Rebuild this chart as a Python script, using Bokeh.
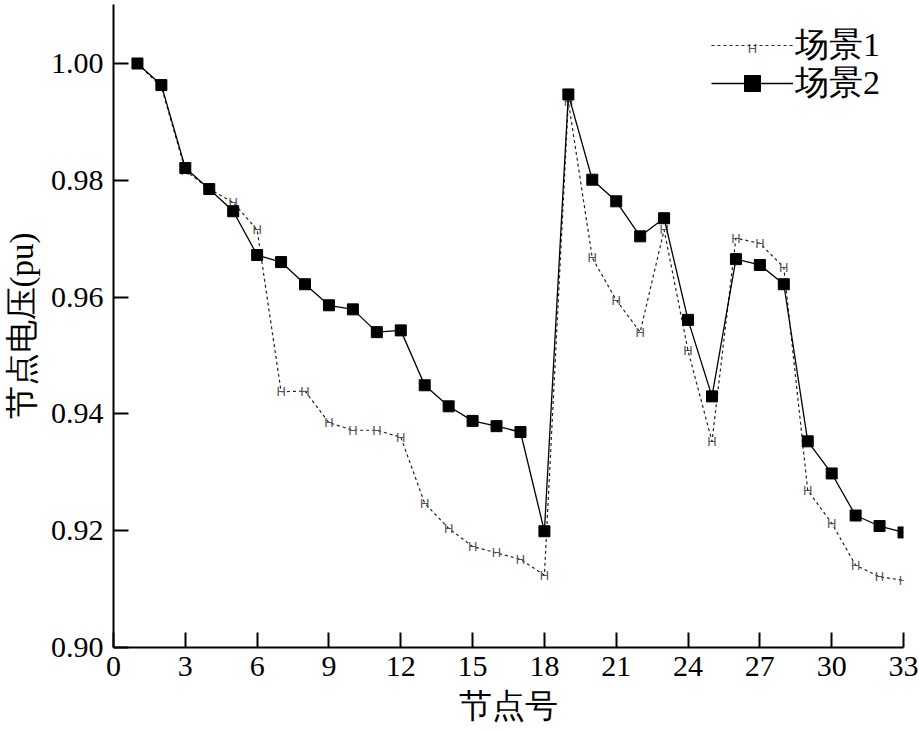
from bokeh.plotting import figure
from bokeh.models import Range1d, FixedTicker, Legend, LegendItem, Label
from bokeh.core.properties import value
from bokeh.embed import file_html
from bokeh.resources import INLINE

nodes = list(range(1, 34))
scene1 = [1.0000, 0.9960, 0.9817, 0.9785, 0.9762, 0.9715, 0.9438, 0.9439,
          0.9385, 0.9372, 0.9372, 0.9360, 0.9247, 0.9204, 0.9173, 0.9162,
          0.9151, 0.9124, 0.9935, 0.9667, 0.9595, 0.9540, 0.9715, 0.9508,
          0.9353, 0.9701, 0.9692, 0.9651, 0.9269, 0.9213, 0.9141, 0.9121,
          0.9115]
scene2 = [1.0000, 0.9963, 0.9821, 0.9785, 0.9747, 0.9672, 0.9660, 0.9622,
          0.9586, 0.9579, 0.9540, 0.9543, 0.9449, 0.9413, 0.9388, 0.9379,
          0.9369, 0.9199, 0.9947, 0.9801, 0.9764, 0.9704, 0.9735, 0.9561,
          0.9430, 0.9665, 0.9655, 0.9622, 0.9353, 0.9298, 0.9226, 0.9208,
          0.9197]
series_names = ["场景1", "场景2"]
x_ticks = [0, 3, 6, 9, 12, 15, 18, 21, 24, 27, 30, 33]
y_ticks = [0.90, 0.92, 0.94, 0.96, 0.98, 1.00]
y_tick_labels = ["0.90", "0.92", "0.94", "0.96", "0.98", "1.00"]
x_title = "节点号"
y_title = "节点电压(pu)"

FONT = "Liberation Serif"

p = figure(frame_width=790, frame_height=643, output_backend="svg",
           toolbar_location=None,
           x_range=Range1d(0, 33), y_range=Range1d(0.9, 1.0101),
           min_border_left=105, min_border_right=15, min_border_top=4,
           min_border_bottom=0)
p.outline_line_color = None
p.grid.visible = False
p.background_fill_color = "white"

for ax in (p.xaxis[0], p.yaxis[0]):
    ax.axis_line_width = 2
    ax.axis_line_color = "black"
    ax.major_tick_in = 15
    ax.major_tick_out = 0
    ax.major_tick_line_width = 2
    ax.minor_tick_line_color = None
    ax.major_label_text_font = FONT
    ax.major_label_text_font_size = "30px"
    ax.major_label_text_color = "black"
    ax.axis_label_text_font = FONT
    ax.axis_label_text_font_size = "33px"
    ax.axis_label_text_font_style = "normal"
    ax.axis_label_text_color = "black"

p.xaxis.ticker = FixedTicker(ticks=x_ticks)
p.yaxis.ticker = FixedTicker(ticks=y_ticks)
p.yaxis.major_label_overrides = {t: l for t, l in zip(y_ticks, y_tick_labels)}
p.xaxis.axis_label = x_title
p.yaxis.axis_label = y_title
p.xaxis.major_label_standoff = 9
p.xaxis.axis_label_standoff = 9
p.yaxis.major_label_standoff = 10
p.yaxis.axis_label_standoff = 8

r1 = p.line(nodes, scene1, line_color="#222222", line_width=1.2, line_dash="3 3")
p.text(x=nodes, y=scene1, text=value("H"), text_font=value("Liberation Sans"),
       text_font_size="13px", text_color="#555555", text_align="center",
       text_baseline="middle")
r2 = p.line(nodes, scene2, line_color="black", line_width=1.3)
r2s = p.scatter(nodes, scene2, marker="square", size=11, fill_color="black",
                line_color="black")

common = dict(padding=0, margin=0, spacing=0, glyph_width=82, glyph_height=40,
              label_height=40, label_standoff=2, border_line_alpha=0,
              background_fill_alpha=0, label_text_font=FONT,
              label_text_font_size="34px", label_text_baseline="middle",
              label_text_color="black")
leg1 = Legend(items=[LegendItem(label=series_names[0], renderers=[r1])],
              location=(598, 579), **common)
leg2 = Legend(items=[LegendItem(label=series_names[1], renderers=[r2, r2s])],
              location=(598, 541), **common)
p.add_layout(leg1)
p.add_layout(leg2)
p.add_layout(Label(x=639, y=599, x_units="screen", y_units="screen", text="H",
                   text_font="Liberation Sans", text_font_size="13px",
                   text_color="#555555", text_align="center",
                   text_baseline="middle"))

open("out.html", "w").write(file_html(p, INLINE))
